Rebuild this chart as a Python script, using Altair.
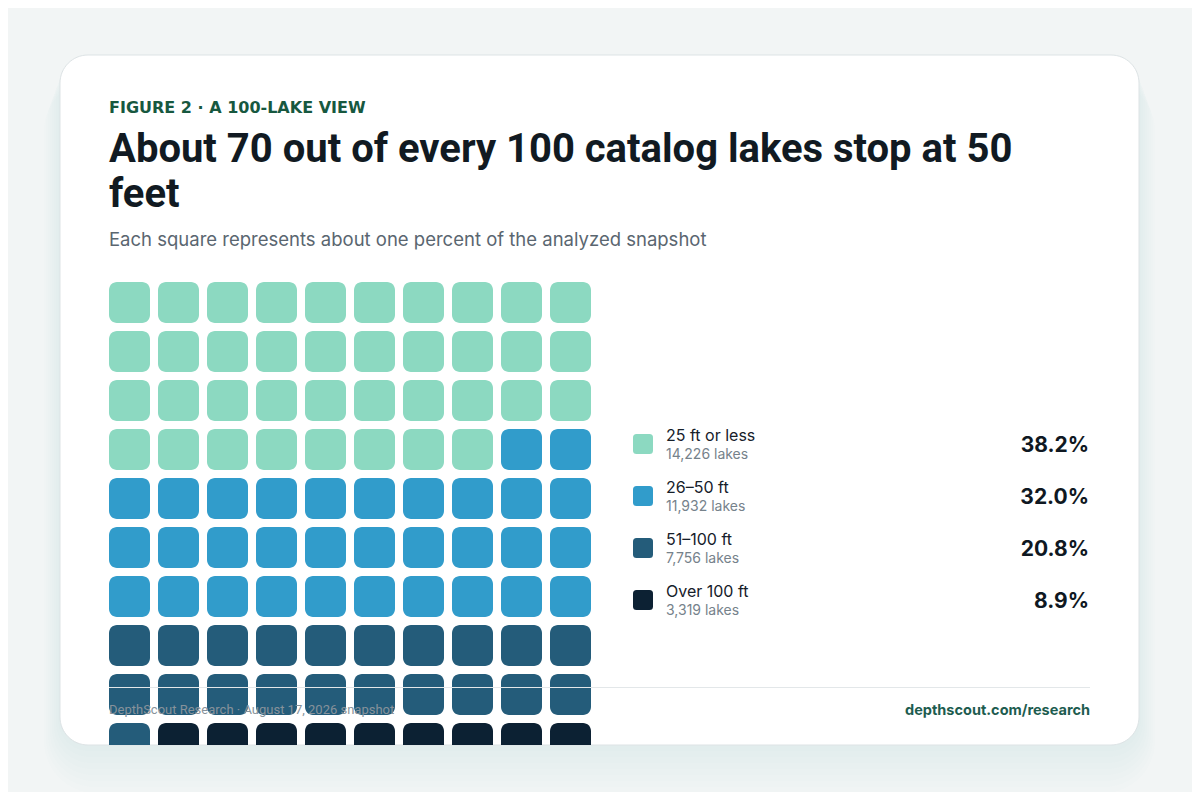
import altair as alt
import pandas as pd

# ---- data ----
categories = ["25 ft or less", "26–50 ft", "51–100 ft", "Over 100 ft"]
lake_counts = [14226, 11932, 7756, 3319]
shares = [38.2, 32.0, 20.8, 8.9]
squares = [38, 32, 21, 9]
colors = ["#8cd9c1", "#319ccb", "#245c7a", "#0c2133"]

eyebrow = "FIGURE 2 · A 100-LAKE VIEW"
title_lines = ["About 70 out of every 100 catalog lakes stop at 50", "feet"]
subtitle = "Each square represents about one percent of the analyzed snapshot"
footer_left = "DepthScout Research · August 17, 2026 snapshot"
footer_right = "depthscout.com/research"

# ---- tables ----
tiles = []
idx = 0
for cat, n in zip(categories, squares):
    for _ in range(n):
        tiles.append({"col": idx % 10, "row": idx // 10, "category": cat})
        idx += 1
tiles_df = pd.DataFrame(tiles)

legend_df = pd.DataFrame({
    "category": categories,
    "pos": list(range(len(categories))),
    "count_label": [f"{c:,} lakes" for c in lake_counts],
    "share_label": [f"{s:.1f}%" for s in shares],
})

one = pd.DataFrame({"a": [0]})
FONT = "Inter"

color_enc = alt.Color("category:N", scale=alt.Scale(domain=categories, range=colors), legend=None)

# ---- card & shadow ----
layers = []
for i in range(1, 9):
    layers.append(
        alt.Chart(one).mark_rect(cornerRadius=28 + i * 3, fill="#7a8a90", opacity=0.012).encode(
            x=alt.value(52 - i * 2), x2=alt.value(1131 + i * 2),
            y=alt.value(47 + i * 3), y2=alt.value(737 + i * 6),
        )
    )
card = alt.Chart(one).mark_rect(cornerRadius=28, fill="white", stroke="#dde3e5", strokeWidth=1).encode(
    x=alt.value(52), x2=alt.value(1131), y=alt.value(47), y2=alt.value(737)
)
layers.append(card)

# ---- waffle ----
waffle = alt.Chart(tiles_df).mark_rect(cornerRadius=8, clip=True).encode(
    x=alt.X("col:O", axis=None,
            scale=alt.Scale(range=[101, 583], paddingInner=8 / 49, paddingOuter=0)),
    y=alt.Y("row:O", axis=None,
            scale=alt.Scale(range=[274, 756], paddingInner=8 / 49, paddingOuter=0)),
    color=color_enc,
)
layers.append(waffle)

# ---- legend ----
leg_y = alt.Y("pos:Q", axis=None, scale=alt.Scale(domain=[0, 3], range=[436, 592]))
rounded_square = ("M -0.65,-1 H 0.65 Q 1,-1 1,-0.65 V 0.65 Q 1,1 0.65,1 H -0.65 "
                  "Q -1,1 -1,0.65 V -0.65 Q -1,-1 -0.65,-1 Z")
swatch = alt.Chart(legend_df).mark_point(shape=rounded_square, size=400, filled=True,
                                         opacity=1, strokeWidth=0).encode(
    x=alt.value(635), y=leg_y, color=color_enc
)
lab = alt.Chart(legend_df).mark_text(align="left", baseline="alphabetic", dy=-3, font=FONT,
                                     fontSize=16, color="#16202a").encode(
    x=alt.value(658), y=leg_y, text="category:N")
cnt = alt.Chart(legend_df).mark_text(align="left", baseline="alphabetic", dy=15, font=FONT,
                                     fontSize=14, color="#76828b").encode(
    x=alt.value(658), y=leg_y, text="count_label:N")
pct = alt.Chart(legend_df).mark_text(align="right", baseline="alphabetic", dy=8, font=FONT,
                                     fontSize=21, fontWeight="bold", color="#0f1822").encode(
    x=alt.value(1081), y=leg_y, text="share_label:N")
layers += [swatch, lab, cnt, pct]


def txt(s, x, y, **kw):
    return alt.Chart(one).mark_text(align=kw.pop("align", "left"), baseline="alphabetic", **kw).encode(
        x=alt.value(x), y=alt.value(y), text=alt.value(s))


layers.append(txt(eyebrow, 101, 105, font="DejaVu Sans", fontSize=16, fontWeight="bold", color="#17583f"))
layers.append(txt(title_lines[0], 101, 154, font="Roboto", fontSize=40, fontWeight="bold", color="#111a22"))
layers.append(txt(title_lines[1], 101, 199, font="Roboto", fontSize=40, fontWeight="bold", color="#111a22"))
layers.append(txt(subtitle, 101, 238, font=FONT, fontSize=18.5, color="#5a6670"))

# ---- footer ----
divider = alt.Chart(one).mark_rule(color="#e3e7e9", strokeWidth=1).encode(
    x=alt.value(101), x2=alt.value(1082), y=alt.value(679.5))
layers.append(divider)
layers.append(txt(footer_left, 101, 706, font="Roboto", fontSize=13, color="#87929a"))
layers.append(txt(footer_right, 1082, 707, align="right", font=FONT, fontSize=14.5, fontWeight="bold",
                  color="#1d5c4f"))

chart = alt.layer(*layers).resolve_scale(x="independent", y="independent").properties(
    width=1184, height=737, autosize="none",
    padding={"left": 0, "top": 0, "right": 0, "bottom": 47},
    background="#f2f5f5",
).configure_view(stroke=None)

chart.save("out.html", embed_options={"renderer": "svg", "actions": False})
